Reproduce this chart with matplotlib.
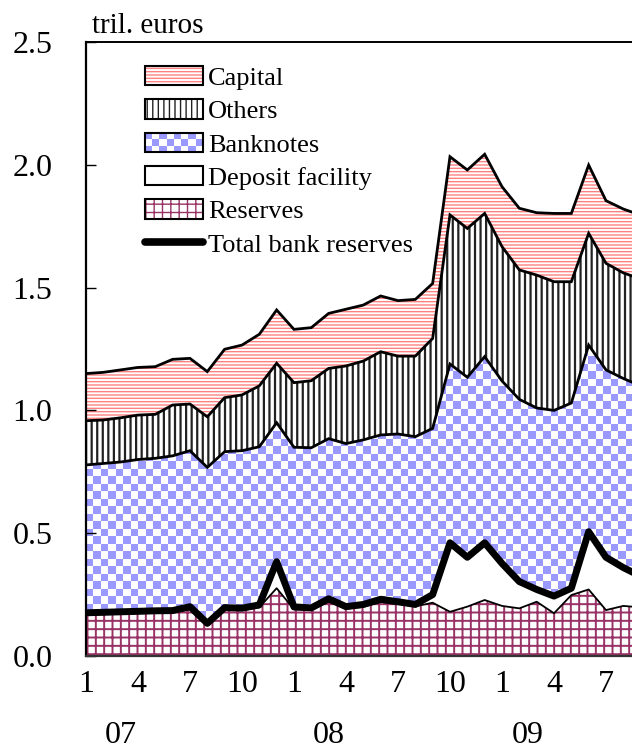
import numpy as np
import matplotlib

matplotlib.use("Agg")
import matplotlib.pyplot as plt
from matplotlib.colors import ListedColormap
from matplotlib.legend_handler import HandlerBase
from matplotlib.lines import Line2D
from matplotlib.patches import Patch, Rectangle

# monthly, Jan 2007 .. Sep 2009 (trillion euros)
months = np.arange(33)
reserves = [0.168, 0.170, 0.172, 0.174, 0.176, 0.177, 0.190, 0.125, 0.188, 0.186, 0.198, 0.276,
            0.190, 0.188, 0.222, 0.192, 0.200, 0.220, 0.212, 0.202, 0.217, 0.180, 0.201, 0.228,
            0.204, 0.194, 0.221, 0.174, 0.248, 0.271, 0.187, 0.204, 0.198]
deposit = [0.008, 0.008, 0.008, 0.008, 0.008, 0.008, 0.011, 0.008, 0.009, 0.009, 0.010, 0.108,
           0.010, 0.008, 0.011, 0.009, 0.010, 0.011, 0.009, 0.008, 0.033, 0.281, 0.201, 0.233,
           0.173, 0.109, 0.050, 0.070, 0.028, 0.235, 0.215, 0.156, 0.127]
banknotes = [0.602, 0.606, 0.610, 0.618, 0.621, 0.630, 0.635, 0.635, 0.635, 0.641, 0.644, 0.566,
             0.650, 0.652, 0.652, 0.664, 0.670, 0.669, 0.683, 0.683, 0.677, 0.728, 0.733, 0.758,
             0.743, 0.742, 0.739, 0.756, 0.754, 0.760, 0.763, 0.770, 0.775]
others = [0.180, 0.177, 0.180, 0.181, 0.179, 0.207, 0.190, 0.206, 0.220, 0.227, 0.248, 0.242,
          0.263, 0.273, 0.286, 0.316, 0.321, 0.339, 0.317, 0.328, 0.366, 0.607, 0.606, 0.583,
          0.547, 0.527, 0.541, 0.524, 0.494, 0.455, 0.434, 0.430, 0.435]
capital = [0.192, 0.194, 0.195, 0.194, 0.194, 0.186, 0.186, 0.184, 0.197, 0.203, 0.210, 0.217,
           0.217, 0.216, 0.224, 0.231, 0.228, 0.227, 0.226, 0.231, 0.224, 0.237, 0.238, 0.241,
           0.244, 0.251, 0.254, 0.278, 0.278, 0.278, 0.255, 0.260, 0.260]

month_ticks = np.arange(0, 31, 3)
month_labels = ["1", "4", "7", "10", "1", "4", "7", "10", "1", "4", "7"]
year_labels = ["07", "08", "09"]
year_pos = [2.0, 14.0, 25.5]

PINK = "#ff8080"
BLUE = "#9999ff"
MAROON = "#993366"

plt.rcParams["font.family"] = ["Liberation Serif", "DejaVu Serif"]

fig = plt.figure(figsize=(6.32, 7.53), dpi=100)
ax = fig.add_axes([0.136, 0.1288, 0.864, 0.8154])
XMAX = 31.5
ax.set_xlim(0, XMAX)
ax.set_ylim(0, 2.5)

layers = np.vstack([reserves, deposit, banknotes, others, capital])
tops = np.cumsum(layers, axis=0)
zero = np.zeros(len(months))

plt.rcParams["hatch.linewidth"] = 1.4
ax.fill_between(months, zero, tops[0], facecolor="white", edgecolor=MAROON, hatch="++", linewidth=0, zorder=1)
ax.fill_between(months, tops[0], tops[1], facecolor="white", edgecolor="none", linewidth=0, zorder=1)

# banknotes: checkerboard image clipped to the band
bn = ax.fill_between(months, tops[1], tops[2], facecolor="none", edgecolor="none", linewidth=0, zorder=1)
ny, nx = 82, 73
board = (np.add.outer(np.arange(ny), np.arange(nx)) % 2).astype(float)
im = ax.imshow(board, cmap=ListedColormap(["white", BLUE]), extent=(0, XMAX, 0, 2.5),
               aspect="auto", interpolation="nearest", zorder=1)
im.set_clip_path(bn.get_paths()[0], transform=ax.transData)

plt.rcParams["hatch.linewidth"] = 1.6
ax.fill_between(months, tops[2], tops[3], facecolor="white", edgecolor="#222222", hatch="|||", linewidth=0, zorder=1)
plt.rcParams["hatch.linewidth"] = 1.0
ax.fill_between(months, tops[3], tops[4], facecolor="white", edgecolor=PINK, hatch="-----", linewidth=0, zorder=1)

for row in (tops[4], tops[3], tops[2]):
    ax.plot(months, row, color="black", lw=2.0, zorder=3, solid_joinstyle="miter")
ax.plot(months, tops[0], color="black", lw=1.3, zorder=3)
ax.plot(months, tops[1], color="black", lw=5.0, zorder=4)

ax.set_yticks(np.arange(0, 2.51, 0.5))
ax.set_yticklabels([f"{v:.1f}" for v in np.arange(0, 2.51, 0.5)])
ax.tick_params(axis="y", direction="in", length=7, width=1, labelsize=23, pad=24, right=False)
ax.set_xticks(month_ticks)
ax.set_xticklabels(month_labels)
ax.tick_params(axis="x", length=0, labelsize=23, pad=10)
for x, lab in zip(year_pos, year_labels):
    ax.text(x, -0.13, lab, transform=ax.get_xaxis_transform(), ha="center", va="center", fontsize=23)

ax.spines["right"].set_visible(False)
ax.spines["left"].set_linewidth(1.6)
ax.spines["top"].set_linewidth(1.4)
ax.spines["bottom"].set_linewidth(1.6)
ax.spines["bottom"].set_color("#333333")

fig.text(0.146, 0.965, "tril. euros", ha="left", va="center", fontsize=21)


class CheckerHandler(HandlerBase):
    def create_artists(self, legend, orig_handle, xdescent, ydescent, width, height, fontsize, trans):
        arts = []
        ncol, nrow = 8, 3
        w, h = width / ncol, height / nrow
        for i in range(ncol):
            for j in range(nrow):
                if (i + j) % 2 == 0:
                    arts.append(Rectangle((-xdescent + i * w, -ydescent + j * h), w, h,
                                          facecolor=BLUE, edgecolor="none", transform=trans))
        arts.append(Rectangle((-xdescent, -ydescent), width, height, facecolor="none",
                              edgecolor="black", lw=1.5, transform=trans))
        return arts


def boxed(hatch_color, hatch):
    return (Patch(facecolor="white", edgecolor=hatch_color, hatch=hatch, linewidth=0),
            Patch(facecolor="none", edgecolor="black", linewidth=1.5))


bn_handle = Patch(facecolor=BLUE)
handles = [
    boxed(PINK, "-----"),
    boxed("#222222", "|||"),
    bn_handle,
    Patch(facecolor="white", edgecolor="black", linewidth=1.5),
    boxed(MAROON, "++"),
    Line2D([], [], color="black", lw=5.5, solid_capstyle="round"),
]
labels = ["Capital", "Others", "Banknotes", "Deposit facility", "Reserves", "Total bank reserves"]
ax.legend(handles, labels, loc="upper left", bbox_to_anchor=(0.108, 0.961), frameon=False,
          borderaxespad=0, borderpad=0, fontsize=19, handlelength=2.2, handleheight=0.75,
          handletextpad=0.2, labelspacing=0.36, handler_map={bn_handle: CheckerHandler()})

fig.savefig("out.png", dpi=100)
